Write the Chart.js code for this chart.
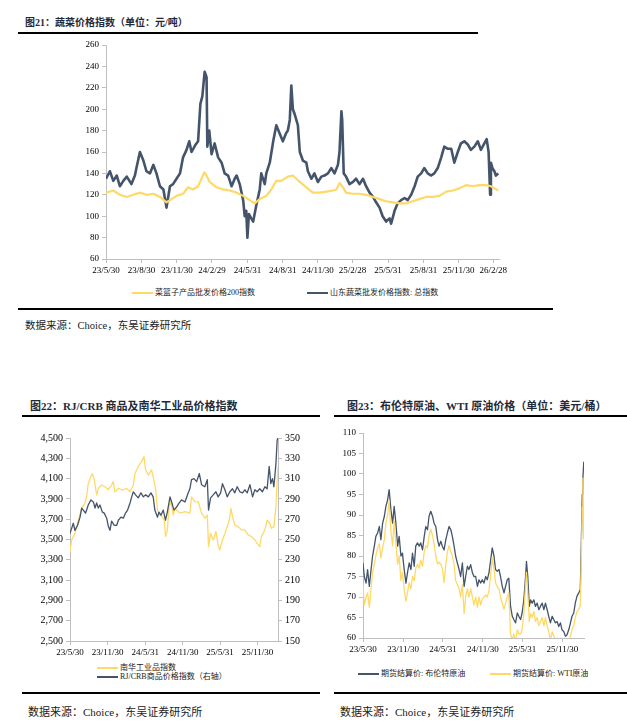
<!DOCTYPE html>
<html><head><meta charset="utf-8">
<script src="https://cdn.jsdelivr.net/npm/chart.js@4.4.0/dist/chart.umd.min.js"></script>
<style>
html,body{margin:0;padding:0;background:#fff;width:627px;height:726px;overflow:hidden;}
body{position:relative;font-family:"Liberation Serif","Noto Sans CJK SC",serif;color:#000;}
.title{position:absolute;font-weight:bold;color:#1f2a3a;white-space:nowrap;line-height:14px;}
.rule{position:absolute;height:2px;background:#000;}
.src{position:absolute;white-space:nowrap;color:#222;line-height:14px;}
.leg{position:absolute;font-size:8px;white-space:nowrap;line-height:10px;font-family:"Liberation Serif","Noto Sans CJK SC",serif;color:#222;}
.leg i{display:inline-block;width:21px;height:2px;vertical-align:middle;margin-right:2px;}
canvas{position:absolute;}
</style></head>
<body>
<div class="title" style="left:25px;top:16px;font-size:10px;">图21：蔬菜价格指数（单位：元/吨）</div>
<div class="rule" style="left:18px;top:32px;width:460px;"></div>
<canvas id="c1" width="460" height="244" style="left:60px;top:35px;width:460px;height:244px;"></canvas>
<div class="leg" style="left:132px;top:288px;"><i style="background:#FFD966"></i>菜篮子产品批发价格200指数</div>
<div class="leg" style="left:307px;top:288px;"><i style="background:#44546A"></i>山东蔬菜批发价格指数: 总指数</div>
<div class="rule" style="left:18px;top:308px;width:535px;"></div>
<div class="src" style="left:25px;top:319px;font-size:10.5px;">数据来源：Choice，东吴证券研究所</div>

<div class="title" style="left:30px;top:399px;font-size:11px;">图22：RJ/CRB 商品及南华工业品价格指数</div>
<div class="rule" style="left:22px;top:415px;width:298px;"></div>
<canvas id="c2" width="300" height="231" style="left:20px;top:428px;width:300px;height:231px;"></canvas>
<div class="leg" style="left:97px;top:663px;"><i style="background:#FFD966"></i>南华工业品指数</div>
<div class="leg" style="left:97px;top:672px;"><i style="background:#44546A"></i>RJ/CRB商品价格指数（右轴）</div>
<div class="rule" style="left:22px;top:692px;width:298px;"></div>
<div class="src" style="left:28px;top:705px;font-size:11px;">数据来源：Choice，东吴证券研究所</div>

<div class="title" style="left:347px;top:399px;font-size:11px;">图23：布伦特原油、WTI 原油价格（单位：美元/桶）</div>
<div class="rule" style="left:334px;top:415px;width:293px;"></div>
<canvas id="c3" width="270" height="233" style="left:330px;top:423px;width:270px;height:233px;"></canvas>
<div class="leg" style="left:358px;top:669px;"><i style="background:#44546A"></i>期货结算价: 布伦特原油</div>
<div class="leg" style="left:490px;top:669px;"><i style="background:#FFD966"></i>期货结算价: WTI原油</div>
<div class="rule" style="left:334px;top:692px;width:293px;"></div>
<div class="src" style="left:340px;top:705px;font-size:11px;">数据来源：Choice，东吴证券研究所</div>

<script>
// ---- Chart 21: vegetable price indices (x = days since 2023-05-30) ----
const vegTickDays=[0,92,184,275,367,459,550,640,732,824,915,1005];
const vegTickLabels=['23/5/30','23/8/30','23/11/30','24/2/29','24/5/31','24/8/31','24/11/30','25/2/28','25/5/31','25/8/31','25/11/30','26/2/28'];
const sdDays=[0,10,19,28,36,45,54,66,75,79,88,97,105,114,123,131,140,149,157,166,174,183,192,200,209,216,222,231,239,245,250,256,261,263,268,274,282,291,300,308,317,326,334,339,347,356,360,364,367,371,377,382,390,399,403,412,416,425,434,442,451,459,468,472,477,481,485,490,498,503,511,520,524,533,541,550,559,567,576,585,593,602,606,611,613,617,623,632,641,649,658,667,675,684,693,701,710,718,727,736,740,749,757,766,775,783,792,801,809,818,826,835,844,852,861,870,878,887,896,904,913,921,930,939,947,956,965,973,982,988,993,997,999,1003,1008,1012,1018];
const sdVeg=[135,142,133,138,128,133,137,130,138,145,160,152,142,140,148,140,128,125,108,128,130,135,140,155,162,170,160,166,170,205,212,235,230,165,180,158,168,155,150,140,138,128,135,138,130,115,100,105,80,102,98,95,110,125,140,130,140,150,170,185,177,170,178,180,190,222,200,195,185,160,152,150,142,135,140,132,137,138,140,145,140,148,160,198,190,140,137,130,132,135,130,135,128,122,118,113,108,100,95,98,93,105,112,115,117,115,120,128,137,140,145,140,138,140,145,155,165,163,163,150,160,168,170,167,162,165,170,162,168,172,160,120,150,145,142,138,140];
const basketDays=[0,19,36,54,71,88,105,123,140,157,166,183,200,213,226,239,248,255,261,269,287,304,321,339,356,373,386,399,416,429,442,455,472,485,503,520,537,554,572,589,598,606,615,623,641,658,675,693,710,727,744,762,779,796,813,831,848,865,883,900,917,934,952,969,986,999,1008,1018];
const basket200=[122,124,120,118,120,122,120,121,118,113,115,119,121,127,125,128,135,141,138,132,127,125,124,122,119,115,112,116,119,125,133,133,137,138,132,127,122,122,123,124,125,131,127,122,121,121,120,118,116,114,113,112,112,114,116,118,118,119,123,124,126,129,128,129,129,128,126,124];

// ---- Chart 22: RJ/CRB and Nanhua industrial ----
const halfTickDays=[0,184,367,550,732,915];
const halfTickLabels=['23/5/30','23/11/30','24/5/31','24/11/30','25/5/31','25/11/30'];
const nhDays=[0,8,24,41,57,73,81,89,102,109,119,130,138,154,171,187,203,211,219,236,252,260,276,293,309,317,333,349,361,369,382,398,406,418,427,439,450,460,466,475,483,492,504,512,536,561,585,593,609,626,642,658,670,676,686,699,712,723,731,744,756,767,777,785,793,804,821,837,853,869,886,902,913,926,934,951,962,975,983,995,1005,1011,1015];
const nanhua=[3380,3495,3560,3690,3807,3856,3920,4053,4120,4150,4086,3940,4004,4037,4020,3990,4037,4070,3970,4004,3990,3990,4004,3970,4037,4150,4217,4267,4316,4185,4135,4185,4120,3990,3790,3740,3725,3690,3530,3590,3823,3873,3740,3807,3760,3775,3760,3920,3873,3870,3760,3710,3740,3430,3560,3495,3577,3445,3397,3495,3560,3627,3690,3807,3725,3643,3627,3594,3594,3545,3528,3495,3462,3430,3528,3594,3690,3660,3610,3627,3823,4086,4217];
const crbDays=[0,8,16,24,37,49,57,65,76,89,102,114,122,130,138,146,158,167,179,187,195,203,216,228,236,249,260,271,281,293,301,309,320,333,346,358,369,382,395,406,414,427,434,444,455,466,475,488,496,507,520,533,544,561,577,585,593,605,618,631,642,658,670,676,686,699,712,723,735,744,756,767,780,793,804,816,829,842,853,865,878,891,902,913,926,939,951,962,972,980,988,995,1005,1011,1015];
const rjcrb=[256,261,266,259,264,272,281,279,276,284,289,287,281,286,281,284,277,276,271,263,259,268,264,264,269,272,271,276,279,286,292,297,294,291,296,292,294,292,296,292,279,272,277,274,279,269,277,292,287,279,282,286,289,287,296,300,309,310,307,315,304,302,309,279,291,294,297,292,296,305,299,292,297,300,296,302,297,296,299,296,304,292,299,297,300,297,302,300,322,305,310,302,325,348,350];

// ---- Chart 23: Brent and WTI ----
const oilDays=[0,6,14,21,29,37,44,52,59,67,75,82,90,98,105,113,120,128,136,143,151,159,166,174,181,189,197,204,212,220,227,235,242,250,258,265,273,281,288,296,303,311,319,326,334,342,349,357,364,372,380,387,395,403,410,418,425,433,441,448,456,464,471,479,486,494,502,509,517,525,532,540,547,555,563,570,578,586,593,601,608,616,624,631,639,647,654,662,669,677,685,692,700,708,715,723,730,738,746,750,756,763,769,776,784,791,799,807,814,822,830,837,845,852,860,868,875,883,891,898,906,913,921,929,936,944,952,959,967,974,982,990,997,1002,1006,1009,1013];
const brent=[78.3,75,73.4,76.7,72.6,76.7,80,82.4,84.8,85.6,87.2,84,88,89.7,92.1,93.7,96.2,91.3,88,92.1,88,82.4,84.8,80,80.7,76.7,73.4,75.9,78.3,76.7,80.7,77.5,82.4,83.2,82.4,83.2,81.5,84.8,87.2,86.4,89.7,90.9,89.7,88,87.2,84,82.4,83.6,82.4,81.5,84,85.6,87.2,86.4,84.8,82.4,80,78.3,76.7,75,78.3,72.6,75,77.5,76.7,77.9,75.9,75,75,72.6,74.2,73.4,74.2,73.4,75,74.2,75.9,79.1,82,80,76.7,76.3,76.7,75,72.6,71,72.6,74.2,74.6,67.7,65.3,64.5,63.7,66.1,65.3,64.5,66.1,69.3,75,78.7,75,67.7,69.3,68.5,69.3,67.7,68.5,66.9,67.7,68.5,66.9,68.5,66.9,65.3,63.7,65.3,64.5,63.7,64,62.8,63.7,62,61.6,60.4,60.8,62,63.7,65.3,66.1,68.5,70.2,71,71.8,84,95,99,103];
const wti=[73,68,70,71,67.5,72,76,78,80,82,83,79.5,82,84,88,90,93.5,86,82.5,88.5,83,78,80,74,76,72,69,71,73.5,72,75,74,77,78,77,79,77.5,81,82.5,82,85,86.5,85,83,80,78,78.5,78,77,73.5,78,81,82.5,81,80,78,74,73,72,70,73,66,70,72,70,72,70,68,70,67.5,70,68,69.5,70,70.5,70,71.5,75.5,79.5,77,73.5,72.5,72,70,68.5,67,68.5,70,71,61,59.5,61,59,62,61,61,62,66,73,76,71,64,66,65,66.5,64,65,63,64,65,63,65,63,61.5,59.5,61.5,60.5,59.5,60,59,60,58.5,58,57,57.5,58.5,60.5,62,63,65,66.5,67,68,80,92,99,84];

const DARK='#44546A', YEL='#FFD966', AXIS='#BFBFBF';
const pts=(d,v)=>d.map((x,i)=>({x:x,y:v[i]}));
const tickFont=(s)=>({family:'Liberation Serif',size:s});

function xAxis(max,tickDays,tickLabels,fs,h){
  return {type:'linear',min:0,max:max,
    afterBuildTicks:s=>{s.ticks=tickDays.map(v=>({value:v}));},
    afterFit:s=>{s.height=h;},
    ticks:{autoSkip:false,maxRotation:0,minRotation:0,padding:2,color:'#000',font:tickFont(fs),
      callback:(v,i)=>tickLabels[i]},
    grid:{drawOnChartArea:false,drawTicks:true,tickLength:4,color:AXIS},
    border:{display:true,color:AXIS,width:1}};
}
function yAxis(min,max,step,w,pos,fs,fmt){
  return {type:'linear',position:pos,min:min,max:max,
    afterFit:s=>{s.width=w;},
    ticks:{stepSize:step,color:'#000',padding:3,font:tickFont(fs),callback:fmt||(v=>v)},
    grid:{drawOnChartArea:false,drawTicks:true,tickLength:4,color:AXIS},
    border:{display:true,color:AXIS,width:1}};
}
const base={responsive:false,animation:false,devicePixelRatio:1,
  plugins:{legend:{display:false},tooltip:{enabled:false}},
  elements:{point:{radius:0},line:{tension:0,borderJoinStyle:'round'}}};

new Chart(document.getElementById('c1'),{type:'line',
  data:{datasets:[
    {label:'山东蔬菜批发价格指数: 总指数',data:pts(sdDays,sdVeg),borderColor:DARK,borderWidth:2.6,order:2},
    {label:'菜篮子产品批发价格200指数',data:pts(basketDays,basket200),borderColor:YEL,borderWidth:2.2,order:1}]},
  options:Object.assign({},base,{layout:{padding:{top:10,right:21,left:0,bottom:0}},
    scales:{x:xAxis(1020,vegTickDays,vegTickLabels,9,20),y:yAxis(60,260,20,46,'left',9)}})});

new Chart(document.getElementById('c2'),{type:'line',
  data:{datasets:[
    {label:'南华工业品指数',data:pts(nhDays,nanhua),borderColor:YEL,borderWidth:1.3,yAxisID:'y',order:2},
    {label:'RJ/CRB商品价格指数（右轴）',data:pts(crbDays,rjcrb),borderColor:DARK,borderWidth:1.3,yAxisID:'y1',order:1}]},
  options:Object.assign({},base,{layout:{padding:{top:10,right:0,left:0,bottom:0}},
    scales:{x:xAxis(1015,halfTickDays,halfTickLabels,9,18),
      y:yAxis(2500,4500,200,50,'left',10,v=>v.toLocaleString('en-US')),
      y1:yAxis(150,350,20,42,'right',10)}})});

new Chart(document.getElementById('c3'),{type:'line',
  data:{datasets:[
    {label:'期货结算价: 布伦特原油',data:pts(oilDays,brent),borderColor:DARK,borderWidth:1.3,order:2},
    {label:'期货结算价: WTI原油',data:pts(oilDays,wti),borderColor:YEL,borderWidth:1.3,order:1}]},
  options:Object.assign({},base,{layout:{padding:{top:10,right:16,left:0,bottom:0}},
    scales:{x:xAxis(1014,halfTickDays,halfTickLabels,9,18),y:yAxis(60,110,5,33,'left',9)}})});
</script>
</body></html>
